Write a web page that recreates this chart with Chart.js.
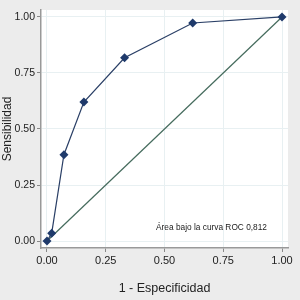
<!DOCTYPE html>
<html>
<head>
<meta charset="utf-8">
<script src="https://cdn.jsdelivr.net/npm/chart.js@4.4.0/dist/chart.umd.min.js"></script>
<style>
  html, body { margin: 0; padding: 0; background: #ececec; }
  #wrap { width: 300px; height: 300px; }
</style>
</head>
<body>
<div id="wrap"><canvas id="roc" width="300" height="300"></canvas></div>
<script>
// puntos de la curva ROC (1 - especificidad, sensibilidad)
var fpr = [0, 0.02, 0.072, 0.157, 0.33, 0.62, 1];
var tpr = [0, 0.035, 0.385, 0.62, 0.818, 0.973, 1];
var refX = [0, 1];
var refY = [0, 1];
var tickVals = [0, 0.25, 0.5, 0.75, 1];
var areaLabel = 'Área bajo la curva ROC 0,812';

var fondo = {
    id: 'fondo',
    beforeDraw: function (chart) {
        var ctx = chart.ctx, a = chart.chartArea;
        ctx.save();
        ctx.fillStyle = '#ececec';
        ctx.fillRect(0, 0, chart.width, chart.height);
        ctx.fillStyle = '#ffffff';
        ctx.fillRect(a.left, a.top, a.right - a.left, a.bottom - a.top);
        ctx.restore();
    },
    afterDraw: function (chart) {
        var ctx = chart.ctx;
        ctx.save();
        ctx.font = '8.8px "Liberation Sans", Arial, sans-serif';
        ctx.fillStyle = '#222';
        ctx.textBaseline = 'middle';
        var x0 = chart.scales.x.getPixelForValue(0.464);
        var x1 = chart.scales.x.getPixelForValue(0.936);
        var w = ctx.measureText(areaLabel).width;
        ctx.translate(x0, chart.scales.y.getPixelForValue(0.062));
        ctx.scale((x1 - x0) / w, 1);
        ctx.fillText(areaLabel, 0, 0);
        ctx.restore();
    }
};

function ticksFijos(scale) {
    scale.ticks = tickVals.map(function (v) { return { value: v }; });
}

var ctx = document.getElementById('roc').getContext('2d');
var rocChart = new Chart(ctx, {
    type: 'scatter',
    data: {
        datasets: [{
            data: fpr.map(function (x, i) { return { x: x, y: tpr[i] }; }),
            showLine: true,
            borderColor: '#2a3f66',
            borderWidth: 1.2,
            backgroundColor: '#1f3a6b',
            pointStyle: 'rectRot',
            pointRadius: 4.5,
            pointBorderWidth: 0
        }, {
            data: refX.map(function (x, i) { return { x: x, y: refY[i] }; }),
            showLine: true,
            borderColor: '#456b5d',
            borderWidth: 1.2,
            pointRadius: 0
        }]
    },
    options: {
        responsive: false,
        animation: false,
        layout: { padding: { top: 10, right: 12, left: 0, bottom: 0 } },
        plugins: { legend: { display: false }, tooltip: { enabled: false } },
        scales: {
            x: {
                type: 'linear',
                min: -0.0255,
                max: 1.0255,
                afterBuildTicks: ticksFijos,
                afterFit: function (s) { s.height = 52; },
                ticks: {
                    callback: function (v) { return v.toFixed(2); },
                    color: '#222',
                    font: { size: 11, family: '"Liberation Sans", Arial, sans-serif' },
                    padding: 2,
                    maxRotation: 0
                },
                grid: { color: '#e8f0f2', tickColor: '#888', tickLength: 4, lineWidth: 1 },
                border: { color: '#999', width: 1.5 },
                title: {
                    display: true,
                    text: '1 - Especificidad',
                    color: '#222',
                    font: { size: 12.5, family: '"Liberation Sans", Arial, sans-serif' },
                    padding: { top: 14 }
                }
            },
            y: {
                type: 'linear',
                min: -0.031,
                max: 1.031,
                afterBuildTicks: ticksFijos,
                afterFit: function (s) { s.width = 41; },
                ticks: {
                    callback: function (v) { return v.toFixed(2); },
                    color: '#222',
                    font: { size: 10.5, family: '"Liberation Sans", Arial, sans-serif' },
                    padding: 2
                },
                grid: { color: '#e8f0f2', tickColor: '#888', tickLength: 4, lineWidth: 1 },
                border: { color: '#999', width: 1.5 },
                title: {
                    display: true,
                    text: 'Sensibilidad',
                    color: '#222',
                    font: { size: 12, family: '"Liberation Sans", Arial, sans-serif' },
                    padding: { top: 0, bottom: 0 }
                }
            }
        }
    },
    plugins: [fondo]
});
</script>
</body>
</html>
